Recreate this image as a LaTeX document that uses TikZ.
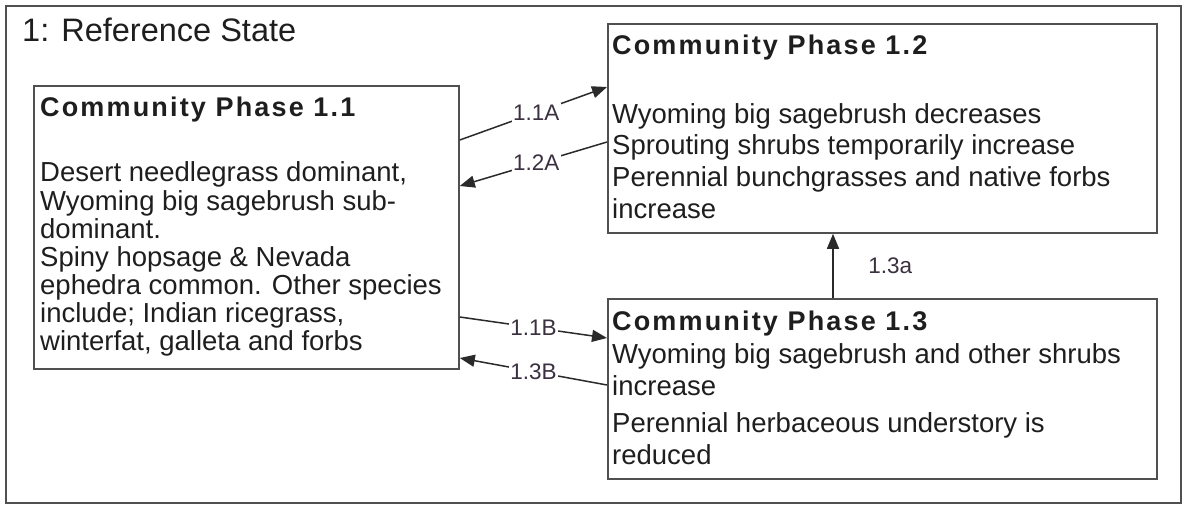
\documentclass[tikz,border=0pt]{standalone}
\usepackage{fontspec}
\setmainfont{Liberation Sans}
\newfontfamily\headfont[LetterSpace=8]{Liberation Sans}
\usetikzlibrary{arrows.meta,calc}
\definecolor{boxgray}{HTML}{505050}
\definecolor{linegray}{HTML}{2A2A2A}
\definecolor{txt}{HTML}{1E1E1E}
\definecolor{lbltxt}{HTML}{3A3040}
\begin{document}
\begin{tikzpicture}[x=1pt,y=-1pt,
  box/.style={draw=boxgray, line width=1.8pt, inner sep=0pt, anchor=north west},
  body/.style={anchor=north west, align=left, inner sep=0pt, text=txt},
  head/.style={anchor=base west, inner sep=0pt, text=txt, font=\headfont\bfseries\fontsize{27}{31}\selectfont},
  lbl/.style={fill=white, inner sep=1.5pt, text=lbltxt, font=\fontsize{22.5}{24}\selectfont},
  conn/.style={draw=linegray, line width=1.5pt, -{Triangle[length=15pt,width=12pt]}}
]
\useasboundingbox (0,0) rectangle (1183,506);
\node[box, minimum width=1175pt, minimum height=497pt] (state) at (5,5) {};
\node[anchor=base west, inner sep=0pt, text=txt, font=\fontsize{32.5}{36}\selectfont] (title) at (22,41) {1: Reference State};

\node[box, minimum width=425pt, minimum height=283pt] (p11) at (33,85) {};
\node[box, minimum width=549pt, minimum height=209pt] (p12) at (607,23) {};
\node[box, minimum width=549pt, minimum height=180pt] (p13) at (607,298) {};

\node[head] (h11) at (40,116) {Community Phase 1.1};
\node[body, font=\fontsize{27.5}{28}\selectfont] (t11) at (40,161.4) {\strut Desert needlegrass dominant,\\Wyoming big sagebrush sub-\\dominant.\\Spiny hopsage \& Nevada\\ephedra common. Other species\\include; Indian ricegrass,\\winterfat, galleta and forbs};

\node[head] (h12) at (612,54) {Community Phase 1.2};
\node[body, font=\fontsize{27.5}{31.7}\selectfont] (t12) at (612,100.8) {\strut Wyoming big sagebrush decreases\\Sprouting shrubs temporarily increase\\Perennial bunchgrasses and native forbs\\increase};

\node[head] (h13) at (612,330) {Community Phase 1.3};
\node[body, font=\fontsize{27.5}{31.5}\selectfont] (t13) at (612,341.3) {\strut Wyoming big sagebrush and other shrubs\\increase\\[6pt]Perennial herbaceous understory is\\reduced};

\draw[conn] ($(p11.north east)+(0,55)$) -- node[lbl, pos=0.52] (l11a) {1.1A} ($(p12.north west)+(0,64)$);
\draw[conn] ($(p12.north west)+(0,119)$) -- node[lbl, pos=0.48] (l12a) {1.2A} ($(p11.north east)+(0,101)$);
\draw[conn] ($(p11.north east)+(0,232)$) -- node[lbl, pos=0.5] (l11b) {1.1B} ($(p13.north west)+(0,40)$);
\draw[conn] ($(p13.north west)+(0,87)$) -- node[lbl, pos=0.5] (l13b) {1.3B} ($(p11.north east)+(0,273)$);
\draw[conn] ($(p13.north west)+(226,0)$) -- node[lbl, fill=none, anchor=west, xshift=33pt] (l13a) {1.3a} ($(p12.south west)+(226,0)$);
\end{tikzpicture}
\end{document}
